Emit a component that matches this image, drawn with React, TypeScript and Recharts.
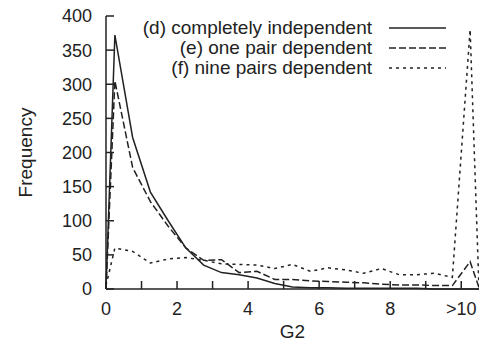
import React from 'react';
import { LineChart, Line, XAxis, YAxis, Legend } from 'recharts';

const FONT = '"Liberation Sans", Arial, Helvetica, sans-serif';
const INK = '#222';

// bin centres of G2 (the last bin is the ">10" overflow bin)
const G2 = [0, 0.25, 0.75, 1.25, 1.75, 2.25, 2.75, 3.25, 3.75, 4.25, 4.75, 5.25, 5.75, 6.25, 6.75, 7.25, 7.75, 8.25, 8.75, 9.25, 9.75, 10.25, 10.5];
const independent = [0, 372, 222, 142, 100, 60, 35, 24, 21, 16, 8, 3, 2, 2, 1, 1, 1, 1, 1, 0, 0, 0, 0];
const onePair = [0, 305, 178, 128, 92, 60, 42, 43, 24, 26, 14, 14, 12, 11, 10, 9, 7, 6, 6, 5, 5, 40, 2];
const ninePairs = [5, 60, 55, 38, 44, 46, 42, 37, 36, 35, 30, 36, 26, 31, 28, 23, 30, 21, 21, 23, 17, 380, 0];

const X_TICKS = [0, 1, 2, 3, 4, 5, 6, 7, 8, 9, 10];
const X_LABELS = ['0', '', '2', '', '4', '', '6', '', '8', '', '>10'];
const Y_TICKS = [0, 50, 100, 150, 200, 250, 300, 350, 400];

const SERIES = [
  { key: 'd', name: '(d) completely independent', dash: undefined as string | undefined },
  { key: 'e', name: '(e) one pair dependent', dash: '7 3' },
  { key: 'f', name: '(f) nine pairs dependent', dash: '3 4' },
];

const data = G2.map((x, i) => ({ x, d: independent[i], e: onePair[i], f: ninePairs[i] }));

function LegendBox() {
  return (
    <div style={{ width: 446, fontFamily: FONT, fontSize: 19, color: INK }}>
      {SERIES.map((s) => (
        <div key={s.key} style={{ display: 'flex', justifyContent: 'flex-end', alignItems: 'center', height: 20 }}>
          <span style={{ whiteSpace: 'nowrap', lineHeight: '20px' }}>{s.name}</span>
          <svg width={57} height={6} style={{ marginLeft: 17 }}>
            <line x1={0} y1={3} x2={57} y2={3} stroke={INK} strokeWidth={1.6} strokeDasharray={s.dash} />
          </svg>
        </div>
      ))}
    </div>
  );
}

export default function App() {
  return (
    <div style={{ position: 'absolute', left: 0, top: 0, width: 479, height: 347, background: '#fff' }}>
      <LineChart width={479} height={347} data={data} margin={{ top: 16, right: 0, bottom: 0, left: 0 }}>
        <XAxis
          dataKey="x"
          type="number"
          domain={[0, 10.5]}
          ticks={X_TICKS}
          tickFormatter={(v: number) => X_LABELS[X_TICKS.indexOf(v)] ?? ''}
          interval={0}
          height={58}
          tickSize={-8}
          tickMargin={21}
          stroke={INK}
          strokeWidth={1.5}
          tick={{ fill: INK, fontSize: 18, fontFamily: FONT }}
          label={{ value: 'G2', position: 'insideBottom', offset: 9, fill: INK, fontSize: 19, fontFamily: FONT }}
        />
        <YAxis
          type="number"
          domain={[0, 400]}
          ticks={Y_TICKS}
          interval={0}
          width={106}
          tickSize={-8}
          tickMargin={22}
          stroke={INK}
          strokeWidth={1.5}
          tick={{ fill: INK, fontSize: 18, fontFamily: FONT }}
          label={{
            value: 'Frequency',
            angle: -90,
            position: 'insideLeft',
            offset: 25,
            fill: INK,
            fontSize: 19,
            fontFamily: FONT,
            style: { textAnchor: 'middle' },
          }}
        />
        <Legend
          layout="vertical"
          align="center"
          verticalAlign="middle"
          wrapperStyle={{ top: 18, left: 0, width: 446 }}
          content={() => <LegendBox />}
        />
        {SERIES.map((s) => (
          <Line
            key={s.key}
            type="linear"
            dataKey={s.key}
            name={s.name}
            stroke={INK}
            strokeWidth={1.5}
            strokeDasharray={s.dash}
            dot={false}
            isAnimationActive={false}
          />
        ))}
      </LineChart>
    </div>
  );
}
